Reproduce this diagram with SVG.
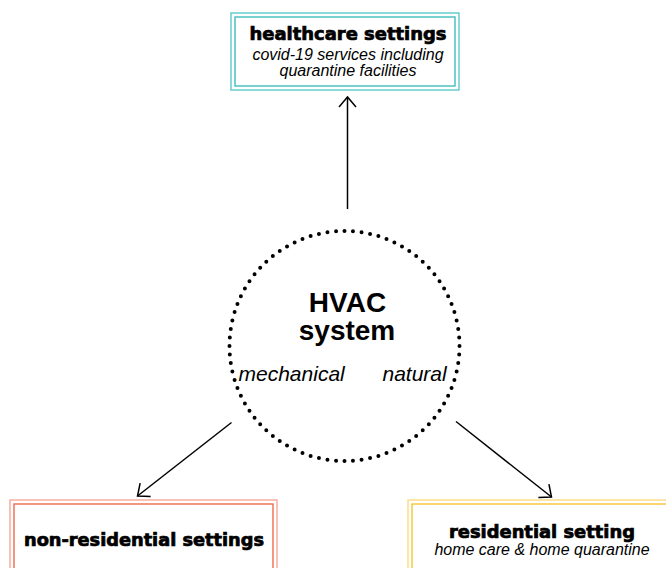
<svg xmlns="http://www.w3.org/2000/svg" width="666" height="568" viewBox="0 0 666 568">
<style>
.h{font-family:"DejaVu Sans",sans-serif;font-weight:bold;font-size:17px;fill:#000;stroke:#000;stroke-width:0.7;text-anchor:middle}
.i{font-family:"Liberation Sans",Arial,sans-serif;font-style:italic;font-size:16px;fill:#000;text-anchor:middle}
.c{font-family:"Liberation Sans",Arial,sans-serif;font-weight:bold;font-size:28px;fill:#000;text-anchor:middle}
.ci{font-family:"Liberation Sans",Arial,sans-serif;font-style:italic;font-size:21px;fill:#000}
.b{fill:none;stroke-width:1.4}
.con{fill:none;stroke:#000;stroke-width:1.5}
</style>
<defs>
<marker id="ah" markerUnits="userSpaceOnUse" markerWidth="24" markerHeight="24" viewBox="-12 -12 24 24" refX="0" refY="0" orient="auto">
<path d="M-10,-8.5 L0,0 L-10,8.5" fill="none" stroke="#000" stroke-width="1.5"/>
</marker>
</defs>
<rect width="666" height="568" fill="#fff"/>
<g id="healthcare">
<rect class="b" x="231" y="13" width="228" height="77" stroke="#5ccaca"/>
<rect class="b" x="235" y="17" width="220" height="69" stroke="#3fbcbc"/>
<text class="h" x="348" y="39.5" textLength="197" lengthAdjust="spacingAndGlyphs">healthcare settings</text>
<text class="i" x="348" y="59.5">covid-19 services including</text>
<text class="i" x="348" y="76">quarantine facilities</text>
</g>
<g id="hvac">
<circle cx="344.5" cy="346" r="115" fill="none" stroke="#000" stroke-width="4" stroke-linecap="round" pathLength="84" stroke-dasharray="0 1"/>
<text class="c" x="347.5" y="312">HVAC</text>
<text class="c" x="347" y="340">system</text>
<text class="ci" x="238.5" y="381">mechanical</text>
<text class="ci" x="382.5" y="381">natural</text>
</g>
<g id="nonresidential">
<rect class="b" x="10" y="500" width="267" height="100" stroke="#f7a898"/>
<rect class="b" x="14" y="504" width="259" height="100" stroke="#ee6a50"/>
<text class="h" x="144" y="546" textLength="240" lengthAdjust="spacingAndGlyphs">non-residential settings</text>
</g>
<g id="residential">
<rect class="b" x="408" y="500" width="270" height="100" stroke="#fbdc80"/>
<rect class="b" x="412" y="504" width="262" height="100" stroke="#f7c534"/>
<text class="h" x="542" y="537.5" textLength="186" lengthAdjust="spacingAndGlyphs">residential setting</text>
<text class="i" x="542" y="554.5">home care &amp; home quarantine</text>
</g>
<g id="connectors">
<line class="con" x1="347.5" y1="209" x2="347.5" y2="97" marker-end="url(#ah)"/>
<line class="con" x1="231.5" y1="422.5" x2="137.5" y2="496" marker-end="url(#ah)"/>
<line class="con" x1="456" y1="421.5" x2="551.5" y2="497" marker-end="url(#ah)"/>
</g>
</svg>
